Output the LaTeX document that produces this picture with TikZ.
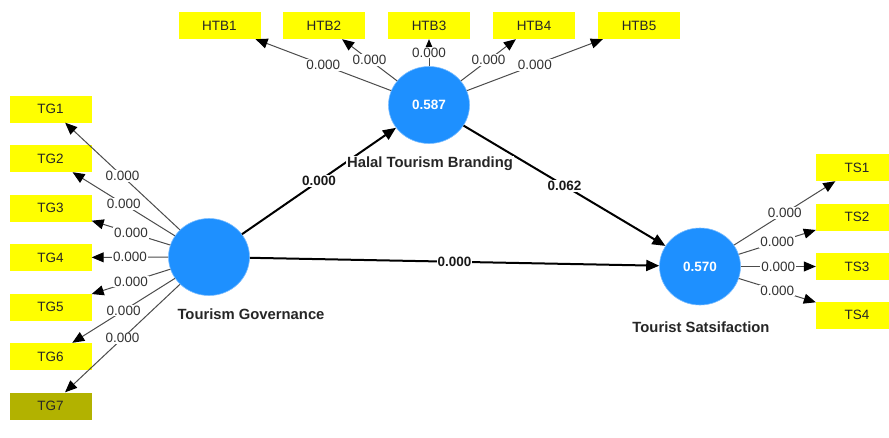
\documentclass[tikz,border=0pt]{standalone}
\usepackage{fontspec}
\setmainfont{Liberation Sans}
\usetikzlibrary{arrows.meta,shapes.geometric}
\definecolor{indy}{RGB}{255,255,0}
\definecolor{indolive}{RGB}{178,178,0}
\definecolor{lvblue}{RGB}{30,144,255}
\begin{document}
\begin{tikzpicture}[x=1pt,y=-1pt,
  indbox/.style={rectangle, fill=indy, minimum width=82pt, minimum height=27pt, inner sep=0pt,
    font=\fontsize{13.5}{16}\selectfont, text=black!85},
  lvnode/.style={ellipse, fill=lvblue, draw=lvblue!60, line width=0.6pt, minimum width=81pt,
    minimum height=77pt, inner sep=0pt, text=white, font=\bfseries\fontsize{13.5}{16}\selectfont},
  ldarrow/.style={draw=black!70, line width=1pt, -{Triangle[length=12pt,width=10pt,color=black]}},
  ldlab/.style={fill=white, inner sep=1pt, font=\fontsize{13.5}{15}\selectfont, text=black!80},
  strarrow/.style={draw=black, line width=2pt, -{Triangle[length=13pt,width=11pt]}},
  strlab/.style={fill=white, inner sep=1pt, font=\bfseries\fontsize{13.5}{16}\selectfont, text=black!90},
  conlab/.style={fill=white, inner sep=1pt, font=\bfseries\fontsize{14.8}{17}\selectfont, text=black!85}
]
\useasboundingbox (0,0) rectangle (889,437);
\clip (0,0) rectangle (889,437);
\fill[white] (0,0) rectangle (889,437);

% latent variables
\node[lvnode] (TG) at (209,257) {};
\node[lvnode] (HTB) at (429,105) {0.587};
\node[lvnode] (TS) at (700,266.5) {0.570};

% indicators TG
\node[indbox] (TG1) at (50.5,109) {TG1};
\node[indbox] (TG2) at (50.5,158.5) {TG2};
\node[indbox] (TG3) at (50.5,208) {TG3};
\node[indbox] (TG4) at (50.5,257.5) {TG4};
\node[indbox] (TG5) at (50.5,307) {TG5};
\node[indbox] (TG6) at (50.5,356.5) {TG6};
\node[indbox, fill=indolive] (TG7) at (50.5,406) {TG7};

% indicators HTB
\node[indbox] (HTB1) at (219.5,25.5) {HTB1};
\node[indbox] (HTB2) at (324,25.5) {HTB2};
\node[indbox] (HTB3) at (429,25.5) {HTB3};
\node[indbox] (HTB4) at (534,25.5) {HTB4};
\node[indbox] (HTB5) at (639,25.5) {HTB5};

% indicators TS
\node[indbox] (TS1) at (857,167.5) {TS1};
\node[indbox] (TS2) at (857,217) {TS2};
\node[indbox] (TS3) at (857,266.5) {TS3};
\node[indbox] (TS4) at (857,315) {TS4};

% outer loadings
\foreach \i in {1,...,7}{
  \draw[ldarrow] (TG) -- node[ldlab]{0.000} (TG\i);
}
\foreach \i in {1,...,5}{
  \draw[ldarrow] (HTB) -- node[ldlab]{0.000} (HTB\i);
}
\foreach \i in {1,...,4}{
  \draw[ldarrow] (TS) -- node[ldlab]{0.000} (TS\i);
}

% structural paths
\draw[strarrow] (TG) -- node[strlab]{0.000} (HTB);
\draw[strarrow] (HTB) -- node[strlab]{0.062} (TS);
\draw[strarrow] (TG) -- node[strlab]{0.000} (TS);

% construct names
\node[conlab] (TGname) at (251,314) {Tourism Governance};
\node[conlab] (HTBname) at (430,164) {Halal Tourism Branding};
\node[conlab] (TSname) at (701,327) {Tourist Satsifaction};
\end{tikzpicture}
\end{document}
